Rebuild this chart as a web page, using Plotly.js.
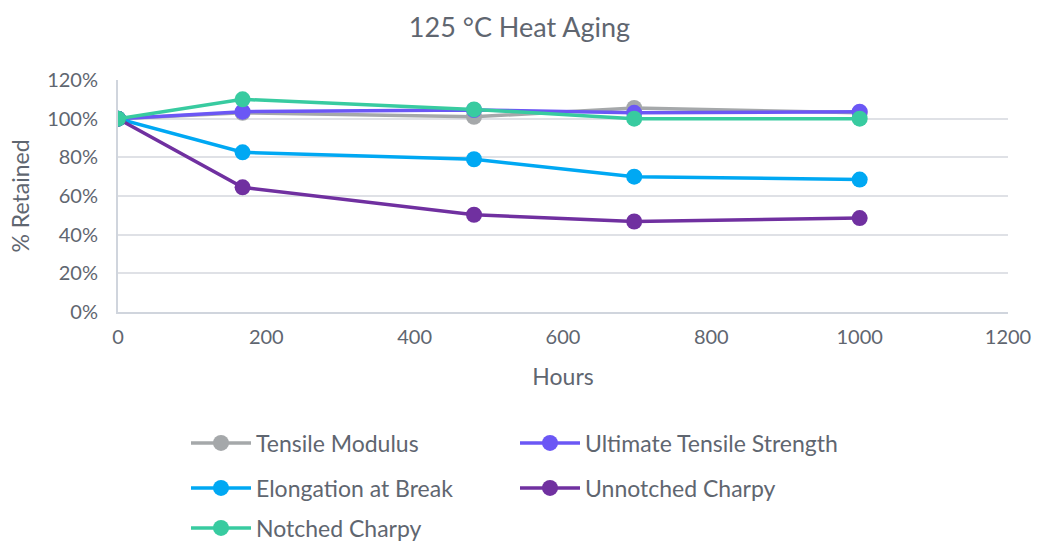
<!DOCTYPE html>
<html><head><meta charset="utf-8">
<script src="https://cdn.plot.ly/plotly-3.0.1.min.js"></script>
<style>body{margin:0;background:#fff}#c{width:1039px;height:541px}</style>
</head><body><div id="c"></div>
<script>
const hours = [0, 168, 480, 696, 1000];
const tensileModulus = [100, 103, 101, 105.5, 103];
const ultimateTensile = [100, 103.6, 104.5, 103, 103.6];
const elongation = [100, 82.6, 79, 70, 68.5];
const unnotched = [100, 64.5, 50.3, 46.8, 48.6];
const notched = [100, 110, 104.8, 100, 100];
const names = ["Tensile Modulus", "Ultimate Tensile Strength", "Elongation at Break", "Unnotched Charpy", "Notched Charpy"];
const colors = ["#A5A8AA", "#6B57F5", "#00A8F3", "#7030A0", "#38CBA0"];
const legendRows = ["legend", "legend", "legend2", "legend2", "legend3"];
const series = [tensileModulus, ultimateTensile, elongation, unnotched, notched];
const font = "Lato, 'Open Sans', sans-serif";
const txt = "#5F6670";
const traces = series.map((s, i) => ({
  x: hours, y: s.map(v => v / 100), name: names[i], type: "scatter", mode: "lines+markers",
  legend: legendRows[i],
  line: {color: colors[i], width: 3.5}, marker: {color: colors[i], size: 16}
}));
function leg(yPx) {
  return {orientation: "h", xref: "container", yref: "container", x: 186 / 1039, xanchor: "left",
    y: 1 - yPx / 541, yanchor: "middle", itemwidth: 60,
    entrywidth: 254, entrywidthmode: "pixels", font: {size: 23, color: txt}, bgcolor: "rgba(0,0,0,0)"};
}
const layout = {
  width: 1039, height: 541,
  margin: {l: 118, r: 31, t: 80, b: 229, autoexpand: false},
  paper_bgcolor: "#fff", plot_bgcolor: "#fff",
  font: {family: font, color: txt, size: 20},
  title: {text: "125 °C Heat Aging", font: {size: 27, color: txt}, x: 0.5, xanchor: "center", y: 0.95, yanchor: "middle"},
  xaxis: {range: [0, 1200], dtick: 200, showgrid: false, zeroline: false, showline: true, linecolor: "#D0D5DD", linewidth: 2,
    ticks: "", ticklabelstandoff: 6, title: {text: "Hours", font: {size: 23}, standoff: 22}, tickfont: {size: 20}},
  yaxis: {range: [0, 1.2], dtick: 0.2, tickformat: ".0%", showgrid: true, gridcolor: "#DFE1E6", gridwidth: 1.5, zeroline: false,
    showline: true, linecolor: "#D0D5DD", linewidth: 2, ticks: "", ticklabelstandoff: 14,
    title: {text: "% Retained", font: {size: 23}, standoff: 11}, tickfont: {size: 20}},
  showlegend: true,
  legend: leg(443), legend2: leg(488), legend3: leg(528)
};
Plotly.newPlot("c", traces, layout, {displayModeBar: false});
</script></body></html>
